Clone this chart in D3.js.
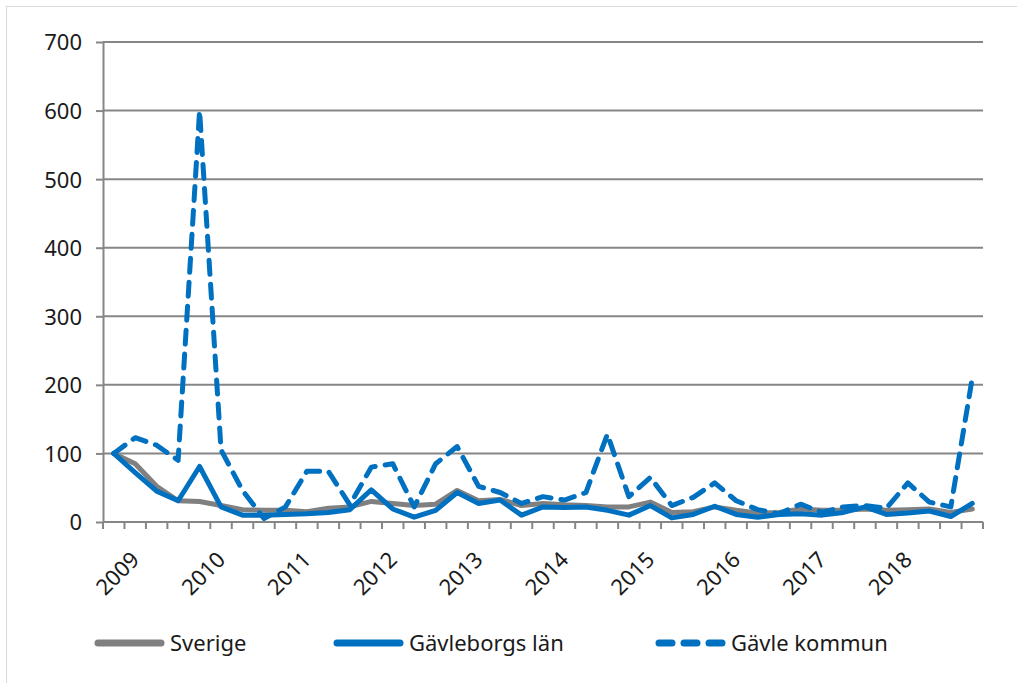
<!DOCTYPE html>
<html>
<head>
<meta charset="utf-8">
<script src="https://cdn.jsdelivr.net/npm/d3@7"></script>
<style>
  html, body { margin: 0; padding: 0; background: #fff; }
  svg { display: block; }
  text { font-family: 'Noto Sans', sans-serif; fill: #1a1a1a; }
</style>
</head>
<body>
<svg></svg>
<script>
// quarterly index, 2009 = 100
const years = ['2009', '2010', '2011', '2012', '2013', '2014', '2015', '2016', '2017', '2018'];
const quarters = d3.range(41).map((i) => 'q' + i);
const sverige = [100, 85, 52, 31, 30, 24, 18, 17, 17, 15, 20, 22, 30, 27, 24, 26, 46, 31, 33, 24,
  27, 25, 24, 22, 22, 29, 14, 15, 22, 17, 13, 14, 19, 17, 17, 19, 17, 18, 19, 14, 19];
const gavleborg = [100, 72, 45, 31, 81, 22, 10, 10, 11, 12, 14, 18, 47, 19, 7, 17, 43, 27, 32, 10,
  22, 21, 22, 17, 10, 24, 6, 11, 23, 11, 7, 11, 12, 10, 14, 22, 11, 13, 16, 8, 27];
const gavle = [100, 123, 112, 90, 600, 105, 46, 5, 22, 74, 74, 25, 80, 85, 22, 85, 110, 52, 43, 27,
  37, 32, 43, 128, 37, 65, 24, 36, 57, 31, 18, 12, 26, 14, 22, 24, 20, 57, 29, 22, 210];
const yTicks = [0, 100, 200, 300, 400, 500, 600, 700];

const width = 1017;
const height = 683;
const margin = { left: 103, top: 42, right: 34, bottom: 161 };

const svg = d3.select('svg').attr('width', width).attr('height', height);

// faint frame (left/top only visible)
svg.append('rect')
  .attr('x', 6.5).attr('y', 6.5)
  .attr('width', width).attr('height', height)
  .attr('fill', 'none').attr('stroke', '#d9d9d9');

const x = d3.scaleBand().domain(quarters).range([margin.left, width - margin.right]);
const y = d3.scaleLinear().domain([0, 700]).range([height - margin.bottom, margin.top]);
const cx = (i) => x(quarters[i]) + x.bandwidth() / 2;

const g = svg.append('g');

// gridlines + y axis
const yAxis = g.append('g')
  .attr('transform', `translate(${margin.left},0)`)
  .call(d3.axisLeft(y).tickValues(yTicks).tickSize(7).tickPadding(14).tickSizeOuter(0));
yAxis.select('.domain').attr('stroke', '#868686').attr('stroke-width', 2);
yAxis.selectAll('.tick line').attr('stroke', '#868686').attr('stroke-width', 2);
yAxis.selectAll('.tick text')
  .style('font-size', '22px').attr('fill', '#1a1a1a').attr('dy', '0.36em');

g.append('g')
  .selectAll('line')
  .data(yTicks.filter((d) => d > 0))
  .join('line')
  .attr('x1', margin.left).attr('x2', width - margin.right)
  .attr('y1', (d) => y(d)).attr('y2', (d) => y(d))
  .attr('stroke', '#868686').attr('stroke-width', 2);

// x axis: ticks on category boundaries
const xa = g.append('g').attr('transform', `translate(0,${y(0)})`);
xa.append('line')
  .attr('x1', margin.left).attr('x2', width - margin.right)
  .attr('stroke', '#868686').attr('stroke-width', 2);
xa.selectAll('line.tk')
  .data(d3.range(quarters.length + 1))
  .join('line')
  .attr('class', 'tk')
  .attr('x1', (i) => margin.left + i * x.step())
  .attr('x2', (i) => margin.left + i * x.step())
  .attr('y1', 0).attr('y2', 7)
  .attr('stroke', '#868686').attr('stroke-width', 2);
xa.selectAll('text')
  .data(years)
  .join('text')
  .attr('transform', (d, i) => `translate(${cx(i * 4) + 27},39) rotate(-45)`)
  .attr('text-anchor', 'end')
  .style('font-size', '22px')
  .text((d) => d);

// series
const line = d3.line().x((d, i) => cx(i)).y((d) => y(d));
const series = [
  { name: 'Sverige', values: sverige, color: '#808080', dash: null },
  { name: 'Gävleborgs län', values: gavleborg, color: '#0070c0', dash: null },
  { name: 'Gävle kommun', values: gavle, color: '#0070c0', dash: '14,10' }
];

g.append('g')
  .selectAll('path')
  .data(series)
  .join('path')
  .attr('d', (d) => line(d.values))
  .attr('fill', 'none')
  .attr('stroke', (d) => d.color)
  .attr('stroke-width', 5)
  .attr('stroke-linejoin', 'round')
  .attr('stroke-linecap', 'round')
  .attr('stroke-dasharray', (d) => d.dash);

// legend
const legendX = [98, 337, 659];
const lg = g.append('g')
  .selectAll('g')
  .data(series)
  .join('g')
  .attr('transform', (d, i) => `translate(${legendX[i]},643)`);
lg.append('line')
  .attr('x1', 0).attr('x2', 63)
  .attr('stroke', (d) => d.color)
  .attr('stroke-width', 7)
  .attr('stroke-linecap', 'round')
  .attr('stroke-dasharray', (d) => (d.dash ? '13,12' : null));
lg.append('text')
  .attr('x', 72)
  .attr('dy', '0.35em')
  .style('font-size', '22px')
  .text((d) => d.name);
</script>
</body>
</html>
